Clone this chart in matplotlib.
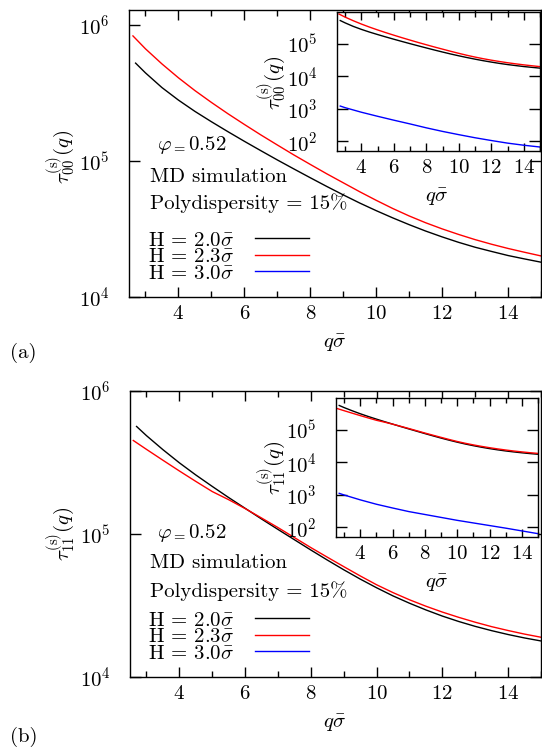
import numpy as np
import matplotlib
matplotlib.use("Agg")
import matplotlib.pyplot as plt
from matplotlib.ticker import MultipleLocator, LogLocator, NullLocator

plt.rcParams["font.family"] = "serif"
plt.rcParams["font.serif"] = ["cmr10", "DejaVu Serif"]
plt.rcParams["mathtext.fontset"] = "cm"
plt.rcParams["axes.formatter.use_mathtext"] = True
plt.rcParams["axes.unicode_minus"] = False
plt.rcParams["font.size"] = 15

W, H = 542, 747

# values, stored as log10(tau)
q_half = [3, 3.5, 4, 4.5, 5, 5.5, 6, 6.5, 7, 7.5, 8, 8.5, 9, 9.5,
          10, 10.5, 11, 11.5, 12, 12.5, 13, 13.5, 14, 14.5, 15]
q_int = [3, 4, 5, 6, 7, 8, 9, 10, 11, 12, 13, 14, 15]

# (a) tau_00
q_a_20 = [2.7] + q_half
lg_a_20 = [5.72, 5.648, 5.540, 5.448, 5.365, 5.289, 5.216, 5.145, 5.076, 5.008, 4.942, 4.877,
           4.813, 4.751, 4.691, 4.635, 4.582, 4.532, 4.485, 4.442, 4.402, 4.366, 4.335,
           4.305, 4.280, 4.256]
q_a_23 = [2.62] + q_half
lg_a_23 = [5.92, 5.825, 5.714, 5.612, 5.518, 5.431, 5.348, 5.269, 5.192, 5.118, 5.045, 4.975,
           4.906, 4.840, 4.774, 4.711, 4.651, 4.596, 4.546, 4.501, 4.460, 4.422, 4.388,
           4.357, 4.329, 4.302]
q_a_30 = [2.7] + q_int
lg_a_30 = [3.09, 3.04, 2.90, 2.775, 2.655, 2.54, 2.42, 2.31, 2.21, 2.115, 2.03, 1.95,
           1.885, 1.83]

# (b) tau_11
q_b_20 = [2.7] + q_half
lg_b_20 = [5.752, 5.688, 5.590, 5.498, 5.413, 5.333, 5.255, 5.180, 5.105, 5.032, 4.960, 4.888,
           4.818, 4.750, 4.685, 4.624, 4.567, 4.516, 4.469, 4.426, 4.388, 4.354, 4.324,
           4.297, 4.273, 4.252]
q_b_23 = [2.6] + q_half
lg_b_23 = [5.654, 5.592, 5.516, 5.441, 5.368, 5.297, 5.240, 5.178, 5.112, 5.045, 4.975, 4.905,
           4.838, 4.772, 4.707, 4.645, 4.590, 4.540, 4.495, 4.454, 4.417, 4.383, 4.352,
           4.325, 4.300, 4.278]
q_b_30 = [2.7] + q_int
lg_b_30 = [3.05, 3.0, 2.85, 2.715, 2.60, 2.49, 2.40, 2.31, 2.22, 2.14, 2.06, 1.98,
           1.895, 1.81]

labels = [r"H = 2.0$\bar{\sigma}$", r"H = 2.3$\bar{\sigma}$", r"H = 3.0$\bar{\sigma}$"]
colors = ["black", "red", "blue"]


def rect(x0, y0, x1, y1):
    # pixel box -> figure fraction
    return [x0 / W, 1 - y1 / H, (x1 - x0) / W, (y1 - y0) / H]


def style(ax, ylim):
    ax.set_yscale("log")
    ax.set_xlim(2.5, 15)
    ax.set_ylim(*ylim)
    ax.xaxis.set_major_locator(MultipleLocator(2))
    ax.xaxis.set_minor_locator(MultipleLocator(1))
    ax.yaxis.set_major_locator(LogLocator(base=10, numticks=10))
    ax.yaxis.set_minor_locator(NullLocator())
    ax.tick_params(which="both", direction="in", top=True, right=True, width=1.0)
    ax.tick_params(axis="x", which="major", length=7.5, pad=6)
    ax.tick_params(axis="x", which="minor", length=4.3)
    ax.tick_params(axis="y", which="major", length=8, pad=14)
    for s in ax.spines.values():
        s.set_linewidth(1.0)


def panel(box, inset_box, curves, ylim, ylab, texts_y, leg_top, ylab_xy, xlab_y,
          in_ylab_xy, in_xlab_y, tag, tag_y):
    ax = fig.add_axes(rect(*box))
    for (q, lg), c, lab in zip(curves, colors, labels):
        ax.plot(q, 10 ** np.array(lg), color=c, lw=1.0, label=lab)
    style(ax, ylim)
    ax.legend(loc="upper left", bbox_to_anchor=(148 / W, 1 - leg_top / H),
              bbox_transform=fig.transFigure, frameon=False, markerfirst=False,
              handlelength=2.6, handletextpad=1.0, labelspacing=-0.1,
              borderpad=0, borderaxespad=0, fontsize=15)

    fig.text(157 / W, 1 - texts_y[0] / H, r"$\varphi_{=}0.52$", va="baseline")
    fig.text(150 / W, 1 - texts_y[1] / H, "MD simulation", va="baseline")
    fig.text(150 / W, 1 - texts_y[2] / H, "Polydispersity = 15%", va="baseline")

    fig.text(ylab_xy[0] / W, 1 - ylab_xy[1] / H, ylab, rotation=90, ha="center", va="center")
    fig.text(335 / W, 1 - xlab_y / H, r"$q\bar{\sigma}$", ha="center", va="center")
    fig.text(10 / W, 1 - tag_y / H, tag, ha="left", va="center")

    ins = fig.add_axes(rect(*inset_box))
    for (q, lg), c in zip(curves, colors):
        ins.plot(q, 10 ** np.array(lg), color=c, lw=1.0)
    style(ins, (51, 9.6e5))
    ins.tick_params(axis="x", which="major", length=6)
    ins.tick_params(axis="x", which="minor", length=3.5)
    fig.text(in_ylab_xy[0] / W, 1 - in_ylab_xy[1] / H, ylab, rotation=90, ha="center", va="center")
    fig.text(437 / W, 1 - in_xlab_y / H, r"$q\bar{\sigma}$", ha="center", va="center")
    return ax, ins


fig = plt.figure(figsize=(W / 100, H / 100), dpi=100)

panel((129, 10, 541, 297), (337, 12, 540, 151),
      [(q_a_20, lg_a_20), (q_a_23, lg_a_23), (q_a_30, lg_a_30)],
      (1e4, 1.29e6), r"$\tau^{\rm (s)}_{00}(q)$", (150, 182, 209), 231,
      (61, 157), 343, (272, 83), 197, "(a)", 353)

panel((130, 391, 541, 677), (336, 398, 538, 537),
      [(q_b_20, lg_b_20), (q_b_23, lg_b_23), (q_b_30, lg_b_30)],
      (1e4, 1e6), r"$\tau^{\rm (s)}_{11}(q)$", (538, 568, 597), 611,
      (61, 534), 723, (272, 468), 583, "(b)", 737)

fig.savefig("out.png", dpi=100)
